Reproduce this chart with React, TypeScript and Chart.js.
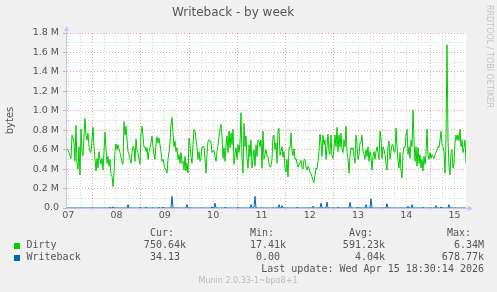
import { useEffect, useRef } from 'react';
import { Chart, registerables } from 'chart.js';

Chart.register(...registerables);

// ---- data -----------------------------------------------------------------
// x axis: hours since Tue Apr 07 00:00; one sample every STEP_HOURS
const dayLabels = ['07', '08', '09', '10', '11', '12', '13', '14', '15'];
const gridHours = [0, 6, 12, 18, 24, 30, 36, 42, 48, 54, 60, 66, 72, 78, 84, 90, 96, 102, 108, 114, 120, 126, 132, 138, 144, 150, 156, 162, 168, 174, 180, 186, 192];
const X_MIN_HOURS = -1.14;
const X_MAX_HOURS = 197.66;
const FIRST_HOUR = -0.64;
const STEP_HOURS = 0.497;

// y axis (bytes, shown in M)
const yGridM = [0, 0.1, 0.2, 0.3, 0.4, 0.5, 0.6, 0.7, 0.8, 0.9, 1.0, 1.1, 1.2, 1.3, 1.4, 1.5, 1.6, 1.7, 1.8];
const yTickLabels = ['0.0', '0.2 M', '0.4 M', '0.6 M', '0.8 M', '1.0 M', '1.2 M', '1.4 M', '1.6 M', '1.8 M'];

// Dirty, in millions of bytes, one value per sample
const dirtyM = [
  0.61, 0.60, 0.57, 0.54, 0.51, 0.75, 0.72, 0.67, 0.48, 0.85, 0.46, 0.40, 0.63, 0.34, 0.81, 0.58, 0.54, 0.74, 0.92, 0.75,
  0.70, 0.77, 0.63, 0.58, 0.57, 0.70, 0.83, 0.63, 0.51, 0.38, 0.51, 0.41, 0.58, 0.50, 0.45, 0.51, 0.39, 0.58, 0.78, 0.60,
  0.46, 0.53, 0.43, 0.50, 0.34, 0.33, 0.22, 0.36, 0.58, 0.66, 0.60, 0.65, 0.61, 0.57, 0.52, 0.47, 0.45, 0.89, 0.75, 0.84,
  0.70, 0.58, 0.55, 0.50, 0.46, 0.57, 0.63, 0.63, 0.48, 0.71, 0.60, 0.57, 0.50, 0.45, 0.77, 0.84, 0.74, 0.62, 0.63, 0.58,
  0.62, 0.50, 0.58, 0.62, 0.67, 0.74, 0.63, 0.55, 0.50, 0.65, 0.73, 0.67, 0.72, 0.65, 0.58, 0.48, 0.50, 0.45, 0.41, 0.39,
  0.36, 0.50, 0.58, 0.67, 0.86, 0.93, 0.77, 0.63, 0.69, 0.58, 0.62, 0.50, 0.55, 0.46, 0.57, 0.46, 0.48, 0.39, 0.53, 0.38,
  0.46, 0.36, 0.72, 0.65, 0.53, 0.46, 0.65, 0.81, 0.79, 0.70, 0.62, 0.50, 0.58, 0.48, 0.51, 0.63, 0.63, 0.63, 0.50, 0.36,
  0.55, 0.69, 0.70, 0.68, 0.68, 0.57, 0.59, 0.59, 0.53, 0.48, 0.58, 0.64, 0.74, 0.82, 0.86, 0.74, 0.51, 0.62, 0.48, 0.65,
  0.74, 0.57, 0.79, 0.62, 0.77, 0.65, 0.81, 0.45, 0.55, 0.62, 0.50, 0.65, 0.57, 0.67, 0.98, 0.51, 0.36, 0.87, 0.63, 0.74,
  0.51, 0.41, 0.65, 0.53, 0.70, 0.41, 0.50, 0.60, 0.43, 0.65, 0.53, 0.70, 0.69, 0.63, 0.70, 0.41, 0.79, 0.50, 0.55, 0.60,
  0.53, 0.53, 0.45, 0.42, 0.43, 0.50, 0.74, 0.75, 0.60, 0.67, 0.46, 0.79, 0.82, 0.54, 0.58, 0.63, 0.52, 0.58, 0.41, 0.37,
  0.50, 0.32, 0.62, 0.62, 0.77, 0.59, 0.54, 0.61, 0.50, 0.51, 0.46, 0.42, 0.45, 0.47, 0.49, 0.42, 0.40, 0.50, 0.50, 0.42,
  0.39, 0.43, 0.41, 0.37, 0.35, 0.32, 0.28, 0.26, 0.34, 0.41, 0.40, 0.48, 0.58, 0.76, 0.67, 0.53, 0.75, 0.65, 0.70, 0.50,
  0.63, 0.76, 0.58, 0.55, 0.75, 0.54, 0.51, 0.62, 0.75, 0.63, 0.83, 0.58, 0.75, 0.63, 0.77, 0.60, 0.57, 0.70, 0.63, 0.84,
  0.58, 0.50, 0.36, 0.53, 0.62, 0.60, 0.62, 0.53, 0.46, 0.75, 0.65, 0.50, 0.55, 0.67, 0.67, 0.75, 0.58, 0.55, 0.50, 0.60,
  0.53, 0.63, 0.48, 0.58, 0.53, 0.39, 0.53, 0.58, 0.50, 0.58, 0.63, 0.57, 0.50, 0.79, 0.72, 0.51, 0.63, 0.60, 0.55, 0.46,
  0.39, 0.63, 0.69, 0.50, 0.58, 0.65, 0.65, 0.58, 0.57, 0.82, 0.63, 0.48, 0.41, 0.57, 0.39, 0.31, 0.55, 0.63, 0.62, 0.75,
  0.81, 0.55, 0.63, 0.51, 0.70, 0.63, 1.01, 0.70, 0.48, 0.63, 0.43, 0.62, 0.46, 0.55, 0.41, 0.50, 0.38, 0.53, 0.45, 0.55,
  0.81, 0.55, 0.50, 0.57, 0.51, 0.55, 0.53, 0.51, 0.55, 0.57, 0.60, 0.63, 0.62, 0.70, 0.79, 0.65, 0.63, 0.58, 0.36, 0.70,
  1.68, 0.70, 0.43, 0.34, 0.57, 0.60, 0.41, 0.46, 0.67, 0.75, 0.70, 0.75, 0.69, 0.81, 0.63, 0.70, 0.57, 0.62, 0.70, 0.46,
];

// Writeback: zero except for these samples (sample index, millions of bytes)
const writebackSamples = [43, 46, 61, 73, 79, 92, 96, 105, 120, 145, 148, 158, 171, 184, 188, 212, 215, 230, 246, 254, 260, 271, 283, 291, 299, 304, 320, 341, 345, 356, 369, 374, 382];
const writebackM = [0.008, 0.012, 0.035, 0.006, 0.006, 0.006, 0.008, 0.12, 0.035, 0.012, 0.05, 0.006, 0.006, 0.035, 0.12, 0.035, 0.025, 0.006, 0.02, 0.05, 0.06, 0.006, 0.06, 0.006, 0.035, 0.096, 0.045, 0.02, 0.035, 0.006, 0.025, 0.01, 0.035];

// legend table
const statHeaders = ['Cur:', 'Min:', 'Avg:', 'Max:'];
const dirtyStats = ['750.64k', '17.41k', '591.23k', '6.34M'];
const writebackStats = ['34.13 ', '0.00 ', '4.04k', '678.77k'];
const lastUpdate = 'Last update: Wed Apr 15 18:30:14 2026';
const muninVersion = 'Munin 2.0.33-1~bpo8+1';
const watermark = 'RRDTOOL / TOBI OETIKER';

// ---- styles -----------------------------------------------------------------
const GREEN = '#00cc00';
const BLUE = '#0066b3';
const MAJOR = '#eba3a3';
const MINOR = '#d2d2d2';
const AXIS = '#c4c4ee';
const TEXT = '#555555';
const SANS = 'DejaVu Sans';
const MONO = 'DejaVu Sans Mono';

const decorPlugin = {
  id: 'muninDecor',
  beforeDraw(chart: any) {
    const { ctx, chartArea: a, width, height } = chart;
    ctx.save();
    ctx.fillStyle = '#f0f0f0';
    ctx.fillRect(0, 0, width, height);
    ctx.fillStyle = '#ffffff';
    ctx.fillRect(a.left, a.top, a.right - a.left, a.bottom - a.top);
    ctx.restore();
  },
  afterDraw(chart: any) {
    const { ctx, chartArea: a } = chart;
    ctx.save();
    // axis arrows
    ctx.strokeStyle = AXIS;
    ctx.fillStyle = AXIS;
    ctx.lineWidth = 1;
    ctx.beginPath();
    ctx.moveTo(a.left + 0.5, a.top);
    ctx.lineTo(a.left + 0.5, a.top - 2);
    ctx.stroke();
    ctx.beginPath();
    ctx.moveTo(a.left - 2, a.top - 2);
    ctx.lineTo(a.left + 3, a.top - 2);
    ctx.lineTo(a.left + 0.5, a.top - 7);
    ctx.closePath();
    ctx.fill();
    ctx.beginPath();
    ctx.moveTo(a.right, a.bottom + 0.5);
    ctx.lineTo(a.right + 2, a.bottom + 0.5);
    ctx.stroke();
    ctx.beginPath();
    ctx.moveTo(a.right + 2, a.bottom - 2);
    ctx.lineTo(a.right + 2, a.bottom + 3);
    ctx.lineTo(a.right + 7, a.bottom + 0.5);
    ctx.closePath();
    ctx.fill();

    // watermark
    ctx.save();
    ctx.translate(489, 5);
    ctx.rotate(Math.PI / 2);
    ctx.font = `8px "${SANS}"`;
    ctx.fillStyle = '#c2c2c2';
    ctx.textAlign = 'left';
    ctx.textBaseline = 'middle';
    ctx.fillText(watermark, 0, 0);
    ctx.restore();

    // legend table
    ctx.font = `10px "${MONO}"`;
    ctx.fillStyle = TEXT;
    ctx.textBaseline = 'middle';
    ctx.textAlign = 'left';
    const headerX = [150, 250, 349, 447];
    const colRight = [186, 286, 385, 484];
    statHeaders.forEach((h, i) => ctx.fillText(h, headerX[i], 233));
    const rows = [
      { name: 'Dirty', color: GREEN, stats: dirtyStats, y: 245.7 },
      { name: 'Writeback', color: BLUE, stats: writebackStats, y: 257.7 },
    ];
    rows.forEach((r) => {
      ctx.fillStyle = r.color;
      ctx.fillRect(14, Math.round(r.y) - 3, 6, 6);
      ctx.fillStyle = TEXT;
      ctx.textAlign = 'left';
      ctx.fillText(r.name, 26.5, r.y);
      ctx.textAlign = 'right';
      r.stats.forEach((s, i) => ctx.fillText(s, colRight[i], r.y));
    });
    ctx.textAlign = 'right';
    ctx.fillText(lastUpdate, 484, 269.3);
    ctx.font = `8px "${SANS}"`;
    ctx.fillStyle = '#b8b8b8';
    ctx.textAlign = 'center';
    ctx.fillText(muninVersion, 248, 281);
    ctx.restore();
  },
};

export default function App() {
  const canvasRef = useRef<HTMLCanvasElement>(null);

  useEffect(() => {
    const canvas = canvasRef.current;
    if (!canvas) return;

    const dirtyData = dirtyM.map((v, i) => ({ x: FIRST_HOUR + i * STEP_HOURS, y: v * 1e6 }));
    const wbByIndex: Record<number, number> = {};
    writebackSamples.forEach((s, j) => { wbByIndex[s] = writebackM[j]; });
    const writebackData = dirtyM.map((_, i) => ({ x: FIRST_HOUR + i * STEP_HOURS, y: (wbByIndex[i] ?? 0) * 1e6 }));

    const tickFont = { family: SANS, size: 9.5 };

    const chart = new Chart(canvas, {
      type: 'line',
      data: {
        datasets: [
          { label: 'Dirty', data: dirtyData, borderColor: GREEN, borderWidth: 1, pointRadius: 0, tension: 0, order: 1 },
          { label: 'Writeback', data: writebackData, borderColor: BLUE, borderWidth: 1, pointRadius: 0, tension: 0, order: 0 },
        ],
      },
      options: {
        animation: false,
        responsive: false,
        maintainAspectRatio: false,
        events: [],
        layout: { padding: { left: 0, right: 31, top: 0, bottom: 0 } },
        plugins: {
          legend: { display: false },
          tooltip: { enabled: false },
          title: {
            display: true,
            text: 'Writeback - by week',
            color: TEXT,
            font: { family: SANS, size: 12, weight: 'normal' },
            padding: { top: 6, bottom: 12.6 },
          },
        },
        scales: {
          x: {
            type: 'linear',
            min: X_MIN_HOURS,
            max: X_MAX_HOURS,
            afterBuildTicks: (s: any) => { s.ticks = gridHours.map((v) => ({ value: v })); },
            afterFit: (s: any) => { s.height = 84; },
            grid: {
              color: (c: any) => (c.tick && c.tick.value % 24 === 12 ? MAJOR : MINOR),
              tickColor: (c: any) => (c.tick && c.tick.value % 24 === 12 ? MAJOR : 'rgba(0,0,0,0)'),
              tickLength: 2,
              lineWidth: 1,
            },
            border: { display: true, color: AXIS, dash: [1, 2] },
            ticks: {
              autoSkip: false,
              maxRotation: 0,
              padding: 0,
              color: TEXT,
              font: tickFont,
              callback: (_v: any, i: number) => {
                const h = gridHours[i];
                return h % 24 === 0 ? dayLabels[h / 24] : '';
              },
            },
          },
          y: {
            min: 0,
            max: 1.8e6,
            afterBuildTicks: (s: any) => { s.ticks = yGridM.map((v) => ({ value: v * 1e6 })); },
            afterFit: (s: any) => { s.width = 66; },
            grid: {
              color: (c: any) => (c.tick && c.index % 2 === 0 ? MAJOR : MINOR),
              tickColor: (c: any) => (c.tick && c.index % 2 === 0 ? MAJOR : 'rgba(0,0,0,0)'),
              tickLength: 3,
              lineWidth: 1,
            },
            border: { display: true, color: AXIS, dash: [1, 2] },
            ticks: {
              autoSkip: false,
              padding: 4,
              color: TEXT,
              font: tickFont,
              callback: (_v: any, i: number) => (i % 2 === 0 ? yTickLabels[i / 2] : ''),
            },
            title: {
              display: true,
              text: 'bytes',
              color: TEXT,
              font: { family: SANS, size: 10 },
              padding: 4,
            },
          },
        },
      },
      plugins: [decorPlugin],
    } as any);

    return () => chart.destroy();
  }, []);

  return (
    <div style={{ position: 'fixed', left: 0, top: 0, width: 497, height: 292 }}>
      <canvas ref={canvasRef} width={497} height={292} style={{ width: 497, height: 292, display: 'block' }} />
    </div>
  );
}
